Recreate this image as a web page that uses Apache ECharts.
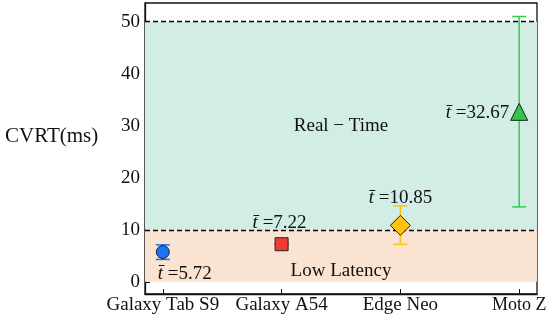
<!DOCTYPE html>
<html><head><meta charset="utf-8">
<script src="https://cdn.jsdelivr.net/npm/echarts@6/dist/echarts.min.js"></script>
<style>html,body{margin:0;padding:0;background:#fff}#c{width:550px;height:320px}</style>
</head><body><div id="c"></div>
<script>
const categories = ['Galaxy Tab S9', 'Galaxy A54', 'Edge Neo', 'Moto Z'];
const means = [5.72, 7.22, 10.85, 32.67];
const errLow = [4.3, 7.22, 7.2, 14.4];
const errHigh = [7.1, 7.22, 14.6, 51.0];
const meanValues = ['5.72', '7.22', '10.85', '32.67'];
const yTicks = [0, 10, 20, 30, 40, 50];
const lowLatencyMax = 10;
const realTimeMax = 50;
const regionLabels = ['Real − Time', 'Low Latency'];
const regionLabelY = [30, 2];

const FONT = 'Liberation Serif';
const colors = ['#1a73f5', '#f03a36', '#ffc20e', '#2ec84a'];
const errColors = ['#1a73f5', '#f03a36', '#ffc20e', '#36cc4a'];
const symbols = ['circle', 'rect', 'diamond', 'triangle'];
const sizes = [13, 13, 20, 17];
const labelCfg = [
  {position: 'bottom', distance: 5, offset: [22, 0]},
  {position: 'top', distance: 5, offset: [-2, 0]},
  {position: 'top', distance: 7, offset: [0, 0]},
  {position: 'left', distance: 1, offset: [0, 1]}
];

const chart = echarts.init(document.getElementById('c'), null, {renderer: 'canvas'});
const series = [];
series.push({
  type: 'line', data: [], silent: true,
  markArea: {
    silent: true,
    data: [
      [{xAxis: -0.15, yAxis: lowLatencyMax, itemStyle: {color: '#d2ece6'}}, {xAxis: 3.15, yAxis: realTimeMax}],
      [{xAxis: -0.15, yAxis: 0, itemStyle: {color: '#fae3d0'}}, {xAxis: 3.15, yAxis: lowLatencyMax}]
    ]
  },
  markLine: {
    silent: true, symbol: 'none', label: {show: false},
    lineStyle: {color: '#000', type: [5, 3], width: 1.4},
    data: [{yAxis: lowLatencyMax}, {yAxis: realTimeMax}]
  }
});
series.push({
  type: 'scatter', symbolSize: 0, silent: true,
  itemStyle: {opacity: 1},
  data: regionLabels.map((t, i) => ({value: [1.5, regionLabelY[i]], name: t})),
  label: {show: true, position: 'inside', formatter: p => p.name, fontFamily: FONT, fontSize: 19, color: '#111', opacity: 1}
});
series.push({
  type: 'custom', silent: true,
  data: categories.map((c, i) => [i, errLow[i], errHigh[i]]),
  renderItem: (params, api) => {
    const i = api.value(0);
    const lo = api.coord([i, api.value(1)]);
    const hi = api.coord([i, api.value(2)]);
    const w = 7;
    const st = {stroke: errColors[i], lineWidth: 1.5};
    return {type: 'group', children: [
      {type: 'line', shape: {x1: lo[0], y1: lo[1], x2: hi[0], y2: hi[1]}, style: st},
      {type: 'line', shape: {x1: lo[0] - w, y1: lo[1], x2: lo[0] + w, y2: lo[1]}, style: st},
      {type: 'line', shape: {x1: hi[0] - w, y1: hi[1], x2: hi[0] + w, y2: hi[1]}, style: st}
    ]};
  },
  z: 3
});
categories.forEach((c, i) => {
  series.push({
    type: 'scatter', name: c, symbol: symbols[i], symbolSize: sizes[i], z: 5,
    itemStyle: {color: colors[i], borderColor: '#222', borderWidth: 1, opacity: 1},
    data: [{value: [i, means[i]]}],
    label: Object.assign({
      show: true, formatter: '{i|t̄} =' + meanValues[i], fontFamily: FONT, fontSize: 19, color: '#111',
      rich: {i: {fontFamily: FONT, fontStyle: 'italic', fontSize: 19, color: '#111'}}
    }, labelCfg[i])
  });
});

chart.setOption({
  animation: false,
  grid: {left: 145, right: 13, top: 3, bottom: 26, show: true, borderColor: '#111', borderWidth: 1.3, backgroundColor: 'transparent'},
  graphic: [{type: 'text', left: 5, top: 126, style: {text: 'CVRT(ms)', fontFamily: FONT, fontSize: 21, fill: '#111'}}],
  xAxis: {
    type: 'value', min: -0.15, max: 3.15,
    splitLine: {show: false},
    axisLine: {show: true, onZero: false, lineStyle: {color: '#111', width: 1.3}},
    axisTick: {show: true, inside: true, length: 5, customValues: [0, 1, 2, 3], lineStyle: {color: '#111'}},
    axisLabel: {
      customValues: [0, 1, 2, 3],
      formatter: v => { const k = Math.round(v); return k === categories.length - 1 ? '{s|' + categories[k] + '}' : categories[k]; },
      rich: {s: {fontFamily: FONT, fontSize: 18, color: '#111', padding: [0, 0, 0, 0]}},
      fontFamily: FONT, fontSize: 19, color: '#111', margin: 2, hideOverlap: false
    }
  },
  yAxis: {
    type: 'value', min: -2.35, max: 53.6,
    splitLine: {show: false},
    axisLine: {show: true, onZero: false, lineStyle: {color: '#111', width: 1.3}},
    axisTick: {show: true, inside: true, length: 5, customValues: yTicks, lineStyle: {color: '#111'}},
    axisLabel: {customValues: yTicks, fontFamily: FONT, fontSize: 19, color: '#111', margin: 5}
  },
  series: series
});
</script></body></html>
